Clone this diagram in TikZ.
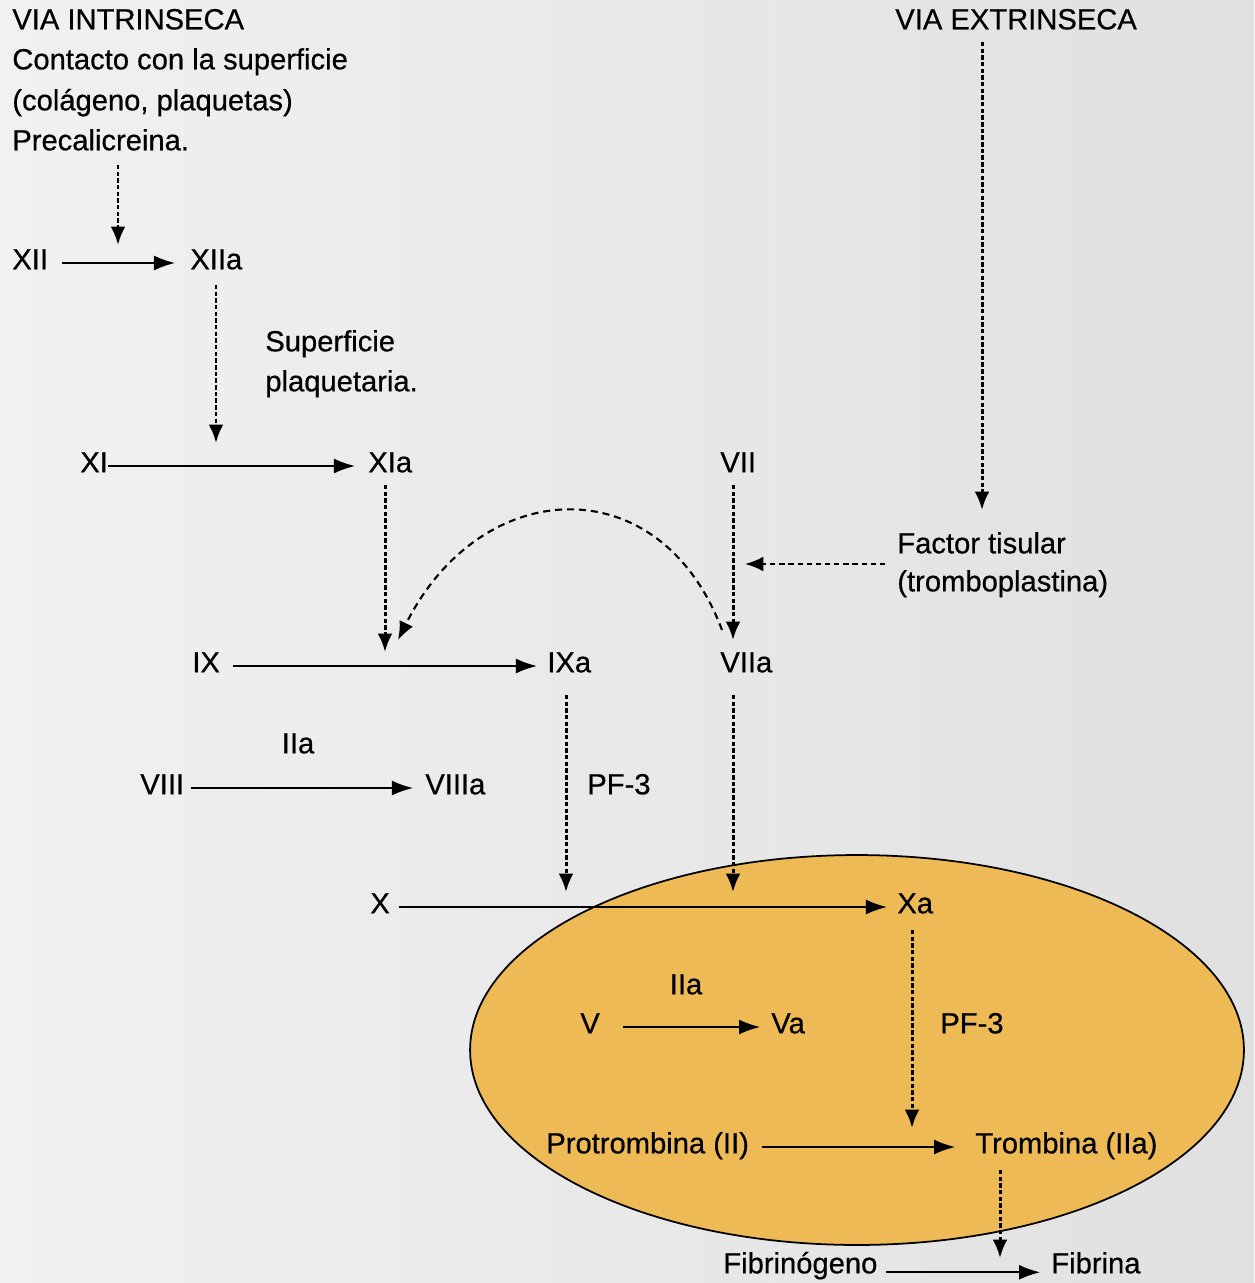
\documentclass[tikz,border=0pt]{standalone}
\usepackage{fontspec}
\setmainfont{Liberation Sans}
\newfontfamily\diafont{Liberation Sans}[FakeBold=0.5]
\usetikzlibrary{arrows.meta}
\definecolor{bgl}{HTML}{F1F1F1}
\definecolor{bgr}{HTML}{E0E0E0}
\definecolor{ovalfill}{HTML}{EDBA55}
\begin{document}
\begin{tikzpicture}[x=0.02cm,y=-0.02cm,
  lab/.style={anchor=west, inner sep=0pt, text height=0.72em, text depth=0pt, font=\fontsize{16.6}{23}\diafont},
  arr/.style={line width=1pt, -{Latex[length=12pt,width=8.5pt]}},
  dotarr/.style={line width=1.7pt, dash pattern=on 2.5pt off 1.3pt, -{Latex[length=10.5pt,width=8.5pt]}},
  dasharr/.style={line width=1.2pt, dash pattern=on 3pt off 2.2pt, -{Latex[length=10.5pt,width=8.5pt]}},
  curvearr/.style={line width=1.2pt, dash pattern=on 4pt off 2.8pt, -{Latex[length=10.5pt,width=8.5pt]}},
]
\shade[left color=bgl, right color=bgr] (0,0) rectangle (1254,1283);
\useasboundingbox (0,0) rectangle (1254,1283);

% oval region
\draw[fill=ovalfill, line width=1pt] (857,1050) ellipse [x radius=7.74cm, y radius=3.9cm];

% texts
\node[lab] (t1) at (12,23) {VIA INTRINSECA};
\node[lab] (t2) at (12,63) {Contacto con la superficie};
\node[lab] (t3) at (12,104) {(colágeno, plaquetas)};
\node[lab] (t4) at (12,144) {Precalicreina.};
\node[lab] (XII) at (12,263) {XII};
\node[lab] (XIIa) at (190,263) {XIIa};
\node[lab] (sp1) at (265,345) {Superficie};
\node[lab] (sp2) at (265,385) {plaquetaria.};
\node[lab] (XI) at (80,466) {XI};
\node[lab] (XIa) at (368,466) {XIa};
\node[lab] (VII) at (720,466) {VII};
\node[lab] (ve) at (895,23) {VIA EXTRINSECA};
\node[lab] (ft1) at (897,547) {Factor tisular};
\node[lab] (ft2) at (897,585) {(tromboplastina)};
\node[lab] (IX) at (192,666) {IX};
\node[lab] (IXa) at (547,666) {IXa};
\node[lab] (VIIa) at (720,666) {VIIa};
\node[lab, anchor=center] (IIa1) at (298,747) {IIa};
\node[lab] (VIII) at (140,788) {VIII};
\node[lab] (VIIIa) at (425,788) {VIIIa};
\node[lab] (pf1) at (587,788) {PF-3};
\node[lab] (X) at (370,907) {X};
\node[lab] (Xa) at (897,907) {Xa};
\node[lab, anchor=center] (IIa2) at (686,988) {IIa};
\node[lab] (V) at (580,1027) {V};
\node[lab] (Va) at (771,1027) {Va};
\node[lab] (pf2) at (940,1027) {PF-3};
\node[lab] (pro) at (546,1147) {Protrombina (II)};
\node[lab] (tro) at (975,1147) {Trombina (IIa)};
\node[lab] (fbg) at (723,1267) {Fibrinógeno};
\node[lab] (fib) at (1051,1267) {Fibrina};

% solid reaction arrows
\draw[arr, shorten <=8pt, shorten >=8.5pt] (XII.east) -- (XIIa.west);
\draw[arr, shorten >=7.4pt] (XI.east) -- (XIa.west);
\draw[arr, shorten <=7.4pt, shorten >=5.7pt] (IX.east) -- (IXa.west);
\draw[arr, shorten <=3.7pt, shorten >=6.8pt] (VIII.east) -- (VIIIa.west);
\draw[arr, shorten <=5pt, shorten >=5.7pt] (X.east) -- (Xa.west);
\draw[arr, shorten <=13pt, shorten >=6.2pt] (V.east) -- (Va.west);
\draw[arr, shorten <=7.4pt, shorten >=11.3pt] (pro.east) -- (tro.west);
\draw[arr, shorten <=4.5pt, shorten >=6.2pt] ([yshift=-3pt]fbg.east) -- ([yshift=-3pt]fib.west);

% dotted activation arrows
\coordinate (a1s) at (118,165);  \coordinate (a1e) at (118,245);
\coordinate (a2s) at (216,285);  \coordinate (a2e) at (216,443);
\coordinate (a3s) at (385,485);  \coordinate (a3e) at (385,652);
\coordinate (a4s) at (733,485);  \coordinate (a4e) at (733,640);
\coordinate (a5s) at (982,42);   \coordinate (a5e) at (982,510);
\coordinate (a6s) at (566,695);  \coordinate (a6e) at (566,892);
\coordinate (a7s) at (733,695);  \coordinate (a7e) at (733,892);
\coordinate (a8s) at (912,930);  \coordinate (a8e) at (912,1128);
\coordinate (a9s) at (1000,1170); \coordinate (a9e) at (1000,1258);
\coordinate (ftend) at (745,564);
\coordinate (cs) at (722,630);   \coordinate (ce) at (398,640);

\draw[dotarr] (a1s) -- (a1e);
\draw[dotarr] (a2s) -- (a2e);
\draw[dotarr] (a3s) -- (a3e);
\draw[dotarr] (a4s) -- (a4e);
\draw[dotarr] (a5s) -- (a5e);
\draw[dotarr] (a6s) -- (a6e);
\draw[dotarr] (a7s) -- (a7e);
\draw[dotarr] (a8s) -- (a8e);
\draw[dotarr] (a9s) -- (a9e);
\draw[dasharr, shorten <=6.8pt] (ft1.west |- ftend) -- (ftend);
\draw[curvearr] (cs) .. controls (660,465) and (480,475) .. (ce);
\end{tikzpicture}
\end{document}
